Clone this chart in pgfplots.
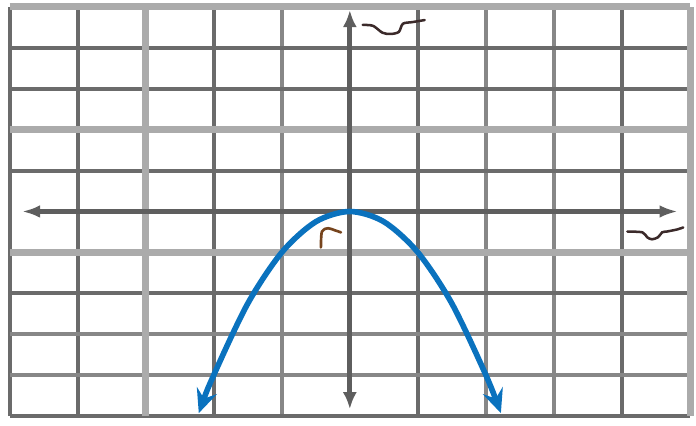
\documentclass[border=0pt]{standalone}
\usepackage{pgfplots}
\pgfplotsset{compat=1.18}
\usetikzlibrary{arrows.meta}

\definecolor{gridDark}{HTML}{6B6B6B}
\definecolor{gridMid}{HTML}{878787}
\definecolor{gridLight}{HTML}{ABABAB}
\definecolor{axisGray}{HTML}{5E5E5E}
\definecolor{curveBlue}{HTML}{0A72BE}
\definecolor{pen}{HTML}{3B2A2A}

\begin{document}
\begin{tikzpicture}
\begin{axis}[
    scale only axis,
    width=17.05cm,
    height=10.25cm,
    xmin=-5, xmax=5,
    ymin=-5, ymax=5,
    clip=false,
    axis line style={draw=none},
    tick style={draw=none},
    xtick={-5,-4,-2,1,4},
    ytick={-5,-2,1,3,4},
    minor xtick={-1,2,3},
    minor ytick={-4,-3},
    extra x ticks={-3,5},
    extra y ticks={-1,2,5},
    xticklabels={}, yticklabels={},
    extra x tick labels={}, extra y tick labels={},
    grid=both,
    major grid style={gridDark, line width=2.8pt},
    minor grid style={gridMid, line width=3pt},
    extra x tick style={grid=major, major grid style={gridLight, line width=5pt}},
    extra y tick style={grid=major, major grid style={gridLight, line width=5pt}},
]

% axes
\addplot[axisGray, line width=3pt, {Latex[length=13pt,width=9pt]}-{Latex[length=13pt,width=9pt]}]
    coordinates {(-4.82,0) (4.82,0)};
\addplot[axisGray, line width=3.6pt, {Latex[length=12pt,width=10pt]}-{Latex[length=12pt,width=10pt]}]
    coordinates {(0,-4.83) (0,4.92)};

% parabola
\addplot[curveBlue, line width=4pt, smooth,
    {Stealth[length=17pt,width=15pt,inset=6pt]}-{Stealth[length=17pt,width=15pt,inset=6pt]}]
    coordinates {(-2.22,-4.93) (-2,-4) (-1.5,-2.25) (-1,-1) (-0.5,-0.25) (0,0)
                 (0.5,-0.25) (1,-1) (1.5,-2.25) (2,-4) (2.22,-4.93)};

% pen marks
\addplot[pen, line width=1.8pt, smooth, line cap=round]
    coordinates {(0.19,4.56) (0.34,4.54) (0.48,4.37) (0.60,4.34) (0.72,4.39)
                 (0.78,4.59) (0.92,4.63) (1.10,4.68)};
\addplot[pen, line width=1.8pt, smooth, line cap=round]
    coordinates {(4.08,-0.49) (4.30,-0.51) (4.37,-0.63) (4.44,-0.68) (4.53,-0.63)
                 (4.59,-0.51) (4.66,-0.49) (4.81,-0.44) (4.90,-0.39)};
\addplot[pen!70!orange, line width=1.9pt, smooth, line cap=round]
    coordinates {(-0.425,-0.88) (-0.41,-0.49) (-0.32,-0.41) (-0.22,-0.46) (-0.13,-0.51)};
\end{axis}
\path (current axis.south west) ++(-0.2cm,-0.025cm);
\path (current axis.north east) ++(0.15cm,0.175cm);
\end{tikzpicture}
\end{document}
